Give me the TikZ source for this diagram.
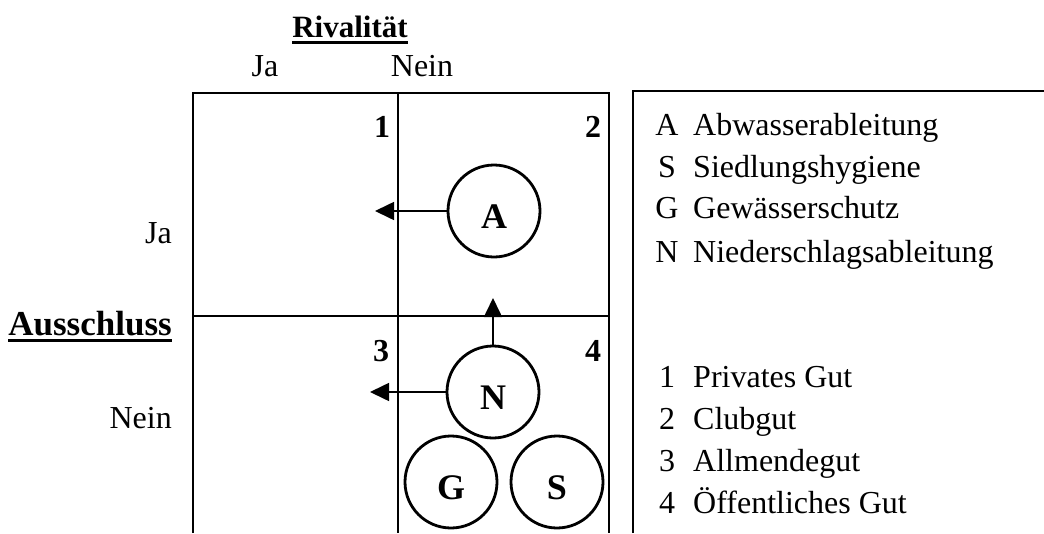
\documentclass[tikz,border=0pt]{standalone}
\usepackage{fontspec}
\setmainfont{Liberation Serif}
\usetikzlibrary{arrows.meta}
\newcommand\myul[1]{\setbox0\hbox{#1}\rlap{\rule[-6.5pt]{\wd0}{3pt}}\box0}
\begin{document}
\begin{tikzpicture}[x=1pt,y=-1pt,
  txt/.style={font=\fontsize{32}{38}\selectfont, inner sep=0pt},
  btxt/.style={font=\fontsize{32}{38}\selectfont\bfseries, inner sep=0pt},
  good/.style={circle, draw, line width=2.8pt, minimum size=92pt, inner sep=0pt, text height=34pt, text depth=0pt, font=\fontsize{36}{40}\selectfont\bfseries},
  grid/.style={line width=1.6pt},
  arr/.style={line width=1.6pt, -{Triangle[length=19pt,width=18pt]}}]
\useasboundingbox (0,0) rectangle (1044,533);
% grid
\draw[grid] (193,533) -- (193,93) -- (609,93) -- (609,533);
\draw[grid] (398,93) -- (398,533);
\draw[grid] (193,316) -- (609,316);
% legend frame
\draw[grid] (633,533) -- (633,91) -- (1044,91);
% headings
\node[btxt, font=\fontsize{31}{36}\selectfont\bfseries, anchor=base] (riv) at (350,37) {\myul{Rivalität}};
\node[txt, anchor=base] (cja) at (265,76) {Ja};
\node[txt, anchor=base] (cnein) at (422,76) {Nein};
\node[btxt, font=\fontsize{35}{40}\selectfont\bfseries, anchor=base east] (aus) at (172,335) {\myul{Ausschluss}};
\node[txt, anchor=base east] (rja) at (172,243) {Ja};
\node[txt, anchor=base east] (rnein) at (172,428) {Nein};
% quadrant numbers
\node[btxt, anchor=base] (q1) at (382,137) {1};
\node[btxt, anchor=base] (q2) at (593,137) {2};
\node[btxt, anchor=base] (q3) at (381,361) {3};
\node[btxt, anchor=base] (q4) at (593,361) {4};
% goods
\node[good] (A) at (494,211) {A};
\node[good] (N) at (493,392) {N};
\node[good] (G) at (451,482) {G};
\node[good] (S) at (557,482) {S};
\coordinate (tA) at (375,211);
\coordinate (tN) at (370,392);
\coordinate (tU) at (493,298);
\draw[arr] (A.west) -- (tA);
\draw[arr] (N.west) -- (tN);
\draw[arr] (N.north) -- (tU);
% legend
\foreach \k/\t/\y in {A/Abwasserableitung/135, S/Siedlungshygiene/177, G/Gewässerschutz/218, N/Niederschlagsableitung/262, 1/Privates Gut/387, 2/Clubgut/429, 3/Allmendegut/471, 4/Öffentliches Gut/513}{
  \node[txt, anchor=base] (k\k) at (667,\y) {\k};
  \node[txt, anchor=base west] (l\k) at (693,\y) {\t};
}
\end{tikzpicture}
\end{document}
